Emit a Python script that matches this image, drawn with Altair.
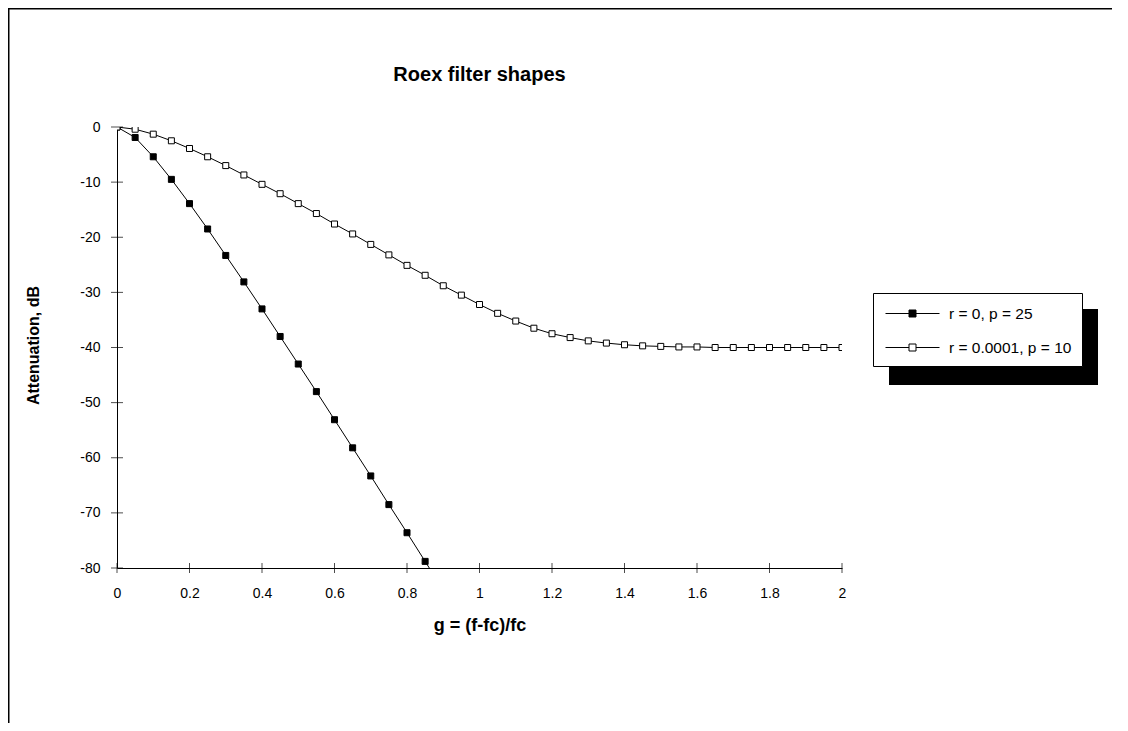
import altair as alt
import pandas as pd

# ---------------- data ----------------
SERIES = ["r = 0, p = 25", "r = 0.0001, p = 10"]

g_values = [0.0, 0.05, 0.1, 0.15, 0.2, 0.25, 0.3, 0.35, 0.4, 0.45,
            0.5, 0.55, 0.6, 0.65, 0.7, 0.75, 0.8, 0.85, 0.9, 0.95,
            1.0, 1.05, 1.1, 1.15, 1.2, 1.25, 1.3, 1.35, 1.4, 1.45,
            1.5, 1.55, 1.6, 1.65, 1.7, 1.75, 1.8, 1.85, 1.9, 1.95, 2.0]

att_r0_p25 = [0.0, -1.9, -5.4, -9.5, -13.9, -18.5, -23.3, -28.1, -33.0, -38.0,
              -43.0, -48.0, -53.1, -58.2, -63.3, -68.5, -73.6, -78.8, -84.0]

att_r00001_p10 = [0.0, -0.4, -1.3, -2.5, -3.9, -5.4, -7.0, -8.7, -10.4, -12.1,
                  -13.9, -15.7, -17.6, -19.4, -21.3, -23.2, -25.1, -26.9, -28.8, -30.5,
                  -32.2, -33.8, -35.2, -36.5, -37.5, -38.2, -38.8, -39.2, -39.5, -39.7,
                  -39.8, -39.9, -39.9, -40.0, -40.0, -40.0, -40.0, -40.0, -40.0, -40.0,
                  -40.0]

x_ticks = [0, 0.2, 0.4, 0.6, 0.8, 1, 1.2, 1.4, 1.6, 1.8, 2]
y_ticks = [0, -10, -20, -30, -40, -50, -60, -70, -80]

# ---------------- tables ----------------
rows = []
for gv, a in zip(g_values[:len(att_r0_p25)], att_r0_p25):
    rows.append({"g": gv, "att": a, "series": SERIES[0]})
for gv, a in zip(g_values, att_r00001_p10):
    rows.append({"g": gv, "att": a, "series": SERIES[1]})
df = pd.DataFrame(rows)
df_xt = pd.DataFrame({"g": x_ticks})
df_yt = pd.DataFrame({"att": y_ticks})
one = pd.DataFrame({"k": [0]})

FONT = "Liberation Sans"

x_enc = alt.X("g:Q", scale=alt.Scale(domain=[0, 2], nice=False, zero=False),
              axis=alt.Axis(values=x_ticks, labelExpr="'' + datum.value", title="g = (f-fc)/fc",
                            labelFlush=False, labelPadding=18,
                            titleY=57, titleBaseline="middle",
                            titleFontSize=18, titleFontWeight="bold"))
y_enc = alt.Y("att:Q", scale=alt.Scale(domain=[-80, 0], nice=False),
              axis=alt.Axis(values=y_ticks, labelExpr="'' + datum.value", title="Attenuation, dB",
                            labelPadding=17, titleX=-84, titleY=218,
                            titleAngle=-90, titleAlign="center", titleBaseline="middle",
                            titleFontSize=16, titleFontWeight="bold"))

legend_path = "M-2.7,0H-0.35M0.35,0H2.7M-0.35,-0.35H0.35V0.35H-0.35Z"

lines = alt.Chart(df).mark_line(color="black", strokeWidth=1, clip=True).encode(
    x=x_enc, y=y_enc, detail="series:N", order="g:Q")

points = alt.Chart(df).mark_point(shape="square", filled=True, size=36, stroke="black",
                                  strokeWidth=1, opacity=1, clip=True).encode(
    x=x_enc, y=y_enc,
    fill=alt.Fill("series:N", scale=alt.Scale(domain=SERIES, range=["black", "white"]),
                  legend=alt.Legend(orient="none", legendX=756, legendY=166, title=None,
                                    fillColor="white", strokeColor="black", padding=10,
                                    symbolType=legend_path, symbolSize=400,
                                    symbolOffset=19, labelOffset=26, rowPadding=15,
                                    symbolStrokeColor="black", symbolStrokeWidth=1,
                                    symbolOpacity=1,
                                    labelFont=FONT, labelFontSize=15.5, labelColor="black",
                                    zindex=1)))

xticks = alt.Chart(df_xt).mark_tick(orient="vertical", size=10, thickness=1, color="black").encode(
    x=alt.X("g:Q"), y=alt.datum(-80))
yticks = alt.Chart(df_yt).mark_tick(orient="horizontal", size=12, thickness=1, color="black").encode(
    y=alt.Y("att:Q"), x=alt.datum(0))

shadow = alt.Chart(one).mark_rect(color="black").encode(
    x=alt.value(772), x2=alt.value(981), y=alt.value(182), y2=alt.value(258))
border_top = alt.Chart(one).mark_rect(color="black").encode(
    x=alt.value(-109), x2=alt.value(995), y=alt.value(-119), y2=alt.value(-117.5))
border_left = alt.Chart(one).mark_rect(color="black").encode(
    x=alt.value(-109), x2=alt.value(-107.5), y=alt.value(-119), y2=alt.value(596))

chart = alt.layer(border_top, border_left, shadow, lines, points, xticks, yticks).properties(
    width=725, height=441,
    autosize=alt.AutoSizeParams(type="none"),
    padding={"left": 109, "top": 119, "right": 270, "bottom": 155},
    title=alt.TitleParams("Roex filter shapes", font=FONT, fontSize=20, fontWeight="bold",
                          anchor="middle", frame="group", offset=0, baseline="alphabetic",
                          dy=93, color="black"),
).configure(font=FONT).configure_view(stroke=None).configure_axis(
    grid=False, ticks=False, tickSize=0, domainColor="black", domainWidth=1,
    labelFont=FONT, labelFontSize=14, labelColor="black",
    titleFont=FONT, titleColor="black")

chart.save("out.html", embed_options={"renderer": "svg", "actions": False})
